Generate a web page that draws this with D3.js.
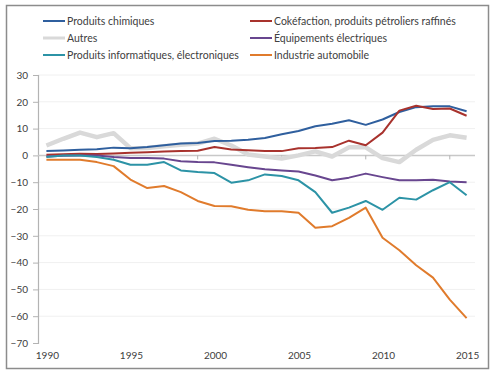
<!DOCTYPE html>
<html>
<head>
<meta charset="utf-8">
<script src="https://cdn.jsdelivr.net/npm/d3@7"></script>
<style>
  body { margin: 0; background: #fff; }
  svg text { font-family: "Lato", "DejaVu Sans", sans-serif; fill: #404040; }
</style>
</head>
<body>
<div id="chart"></div>
<script>
// Years on the category axis
var years = d3.range(1990, 2016);
var tickYears = [1990, 1995, 2000, 2005, 2010, 2015];
var yTicks = [30, 20, 10, 0, -10, -20, -30, -40, -50, -60, -70];

// Series values
var chimiques = [1.6, 1.8, 2.1, 2.3, 2.9, 2.7, 3.1, 3.8, 4.4, 4.6, 5.4, 5.5, 5.8, 6.5, 7.9, 9.1, 10.9, 11.8, 13.1, 11.4, 13.4, 16.2, 18.0, 18.3, 18.3, 16.5];
var cokefaction = [0.2, 0.4, 0.6, 0.5, 0.7, 1.0, 1.2, 1.5, 1.6, 1.7, 3.1, 2.2, 1.9, 1.6, 1.6, 2.7, 2.8, 3.1, 5.5, 3.8, 8.5, 16.7, 18.5, 17.3, 17.5, 14.8];
var autres = [3.7, 6.2, 8.5, 6.8, 8.3, 2.7, 2.8, 3.4, 4.0, 4.4, 6.2, 3.7, 0.3, -0.4, -1.2, 0.0, 1.5, -0.4, 3.0, 3.0, -1.0, -2.5, 2.1, 5.8, 7.5, 6.6];
var equipements = [-0.4, -0.1, 0.0, 0.0, -0.6, -1.0, -1.0, -1.2, -2.2, -2.5, -2.6, -3.5, -4.4, -5.2, -5.6, -6.0, -7.5, -9.3, -8.3, -6.8, -8.1, -9.3, -9.3, -9.1, -9.7, -10.0];
var informatiques = [-0.6, 0.0, 0.0, -0.6, -1.6, -3.5, -3.5, -2.5, -5.6, -6.2, -6.6, -10.2, -9.3, -7.1, -7.7, -9.3, -13.7, -21.4, -19.5, -17.0, -20.3, -15.8, -16.5, -13.0, -10.0, -14.9];
var automobile = [-1.6, -1.6, -1.6, -2.5, -4.0, -9.0, -12.2, -11.4, -13.7, -17.0, -18.9, -19.0, -20.3, -20.8, -20.8, -21.4, -27.0, -26.4, -23.3, -19.5, -30.7, -35.4, -41.0, -45.6, -53.8, -60.7];

// legend order: first column then second column
var seriesNames = ["Produits chimiques", "Autres", "Produits informatiques, électroniques",
                   "Cokéfaction, produits pétroliers raffinés", "Équipements électriques", "Industrie automobile"];

// drawing order (grey "Autres" goes underneath)
var series = [
    {name: seriesNames[1], values: autres, color: "#d9d9d9", width: 4.5},
    {name: seriesNames[0], values: chimiques, color: "#2f5f9e", width: 2},
    {name: seriesNames[3], values: cokefaction, color: "#a8322d", width: 2},
    {name: seriesNames[4], values: equipements, color: "#68468f", width: 2},
    {name: seriesNames[2], values: informatiques, color: "#2c93a6", width: 2},
    {name: seriesNames[5], values: automobile, color: "#e07b2c", width: 2}
];
var byName = {};
series.forEach(function (s) { byName[s.name] = s; });

var width = 496, height = 374;
var svg = d3.select("#chart").append("svg")
    .attr("width", width)
    .attr("height", height);

// frame
svg.append("rect")
    .attr("x", 6.5).attr("y", 5.5)
    .attr("width", 482).attr("height", 363)
    .attr("fill", "none")
    .attr("stroke", "#8c8c8c")
    .attr("stroke-width", 1.5);

var plotLeft = 38, plotRight = 475;
var x = d3.scaleBand().domain(years).range([plotLeft, plotRight]);
var y = d3.scaleLinear().domain([-70, 30]).range([343, 75]);
var step = x.step();

// horizontal gridlines
svg.append("g")
    .selectAll("line")
    .data(yTicks.filter(function (d) { return d !== 0 && d !== -70; }))
    .enter().append("line")
    .attr("x1", plotLeft).attr("x2", plotRight)
    .attr("y1", function (d) { return y(d); })
    .attr("y2", function (d) { return y(d); })
    .attr("stroke", "#f0f0f0")
    .attr("stroke-width", 1);

// y axis
var yAxis = d3.axisLeft(y).tickValues(yTicks).tickSize(5).tickPadding(5).tickFormat(d3.format("d"));
var gy = svg.append("g")
    .attr("transform", "translate(" + plotLeft + ",0)")
    .call(yAxis);
gy.select(".domain").attr("stroke", "#b3b3b3").attr("stroke-width", 1.2);
gy.selectAll(".tick line").attr("stroke", "#b3b3b3");
gy.selectAll(".tick text").style("font-size", "10px").attr("fill", "#404040");

// x axis line at zero, with tick marks between categories every 5 years
var zeroY = y(0);
svg.append("line")
    .attr("x1", plotLeft).attr("x2", plotRight)
    .attr("y1", zeroY).attr("y2", zeroY)
    .attr("stroke", "#c8c8c8")
    .attr("stroke-width", 1.5);
svg.append("g")
    .selectAll("line")
    .data(tickYears.slice(1))
    .enter().append("line")
    .attr("x1", function (d) { return x(d) - step / 2; })
    .attr("x2", function (d) { return x(d) - step / 2; })
    .attr("y1", zeroY).attr("y2", zeroY + 4)
    .attr("stroke", "#b3b3b3");

// x labels at the bottom
svg.append("g")
    .selectAll("text")
    .data(tickYears)
    .enter().append("text")
    .attr("x", function (d) { return x(d) + step / 2 + 1; })
    .attr("y", 359)
    .attr("text-anchor", "middle")
    .style("font-size", "10px")
    .text(function (d) { return d; });

// lines
var line = d3.line()
    .x(function (d, i) { return x(years[i]) + step / 2; })
    .y(function (d) { return y(d); });

svg.append("g")
    .selectAll("path")
    .data(series)
    .enter().append("path")
    .attr("d", function (s) { return line(s.values); })
    .attr("fill", "none")
    .attr("stroke", function (s) { return s.color; })
    .attr("stroke-width", function (s) { return s.width; })
    .attr("stroke-linejoin", "round");

// legend
var legend = svg.append("g");
seriesNames.forEach(function (name, i) {
    var s = byName[name];
    var col = Math.floor(i / 3), row = i % 3;
    var lx = col === 0 ? 43 : 250;
    var ly = 21 + row * 17;
    legend.append("line")
        .attr("x1", lx).attr("x2", lx + 22)
        .attr("y1", ly).attr("y2", ly)
        .attr("stroke", s.color)
        .attr("stroke-width", s.name === "Autres" ? 3 : 2);
    legend.append("text")
        .attr("x", lx + 24)
        .attr("y", ly + 3.5)
        .style("font-size", "10.5px")
        .text(name);
});
</script>
</body>
</html>
